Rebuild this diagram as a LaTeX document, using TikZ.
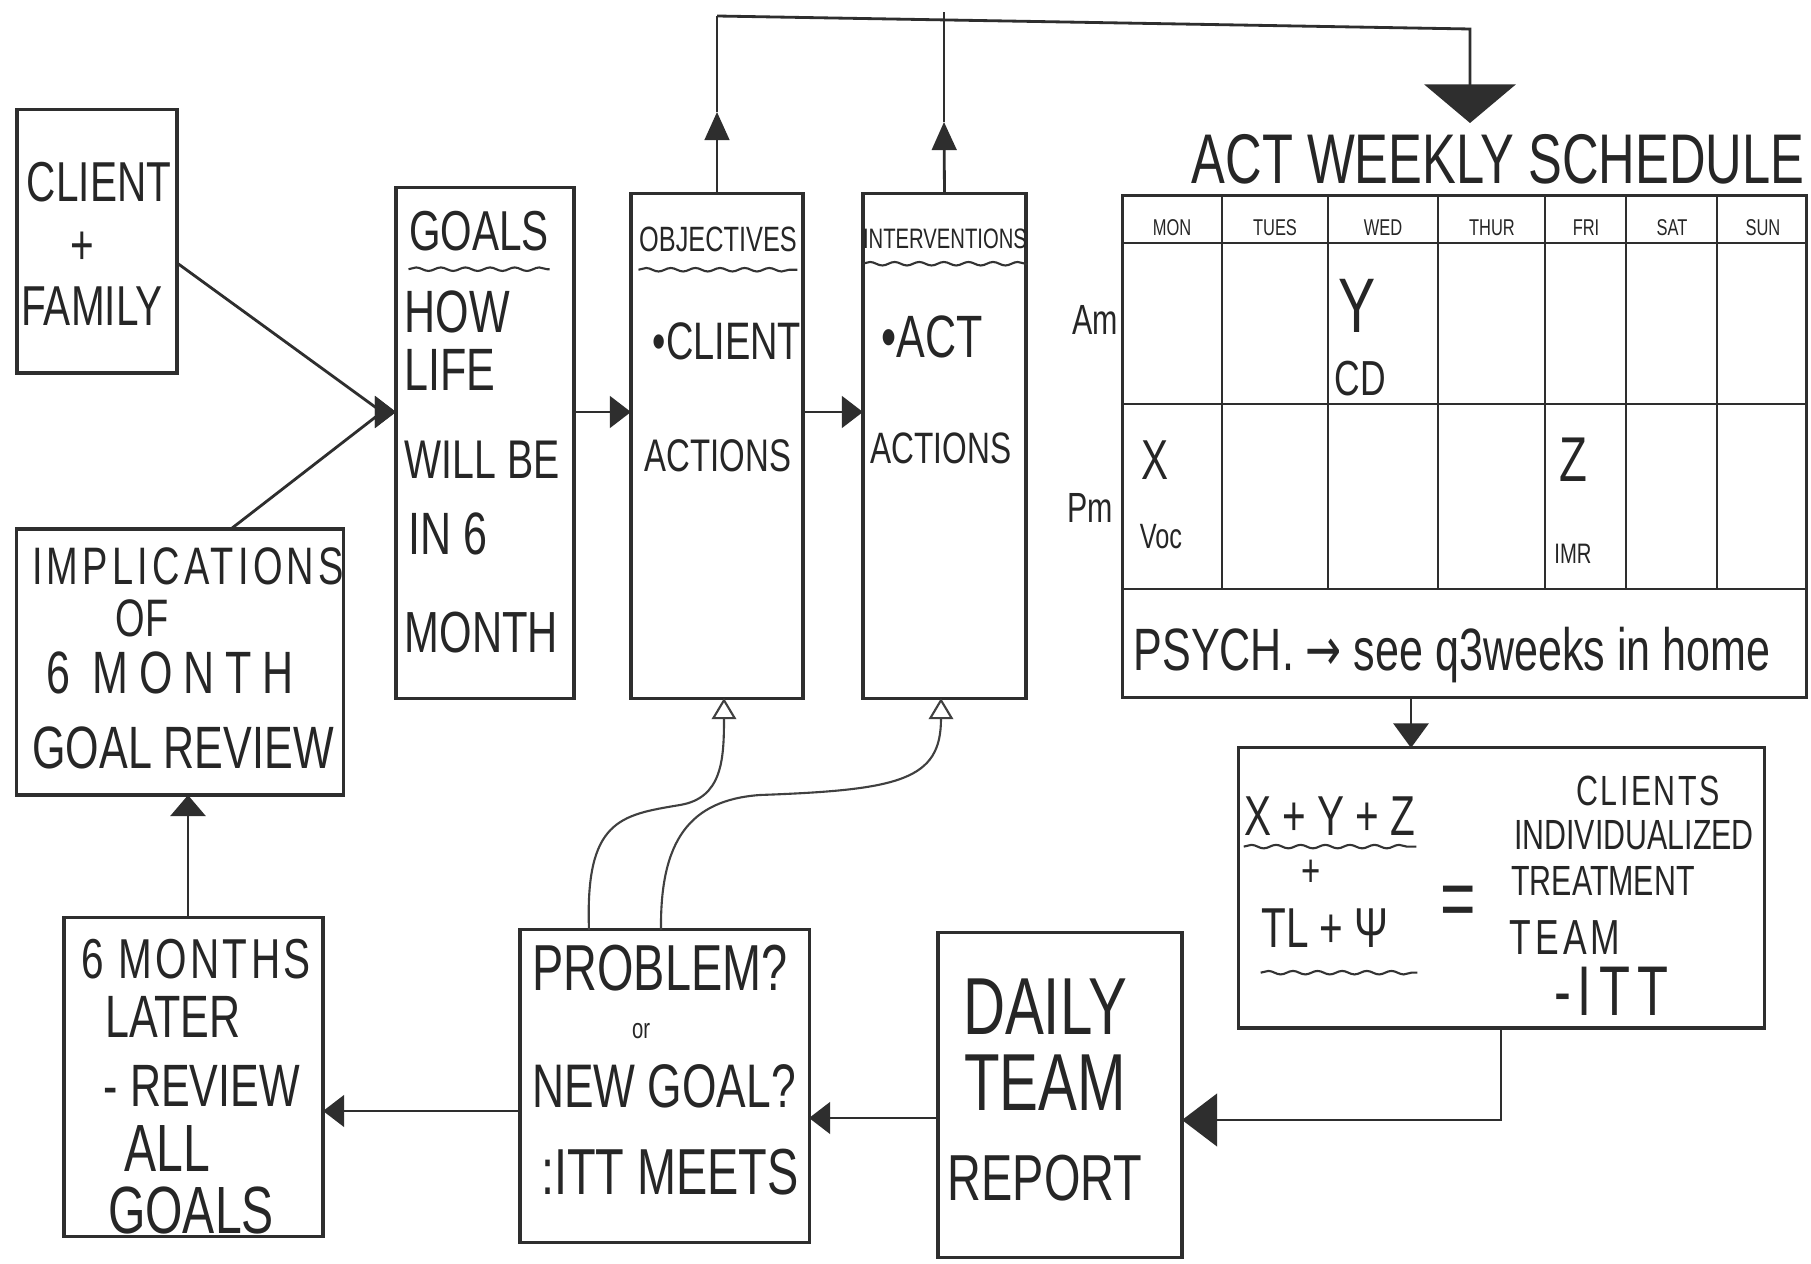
\documentclass[tikz,border=0pt]{standalone}
\usepackage{fontspec}
\setmainfont[FakeStretch=0.72]{Liberation Sans}
\newfontfamily\dvsans[FakeStretch=0.72]{DejaVu Sans}
\usetikzlibrary{arrows.meta,decorations.pathmorphing,calc}
\newcommand\fsz[1]{\fontsize{#1}{#1}\selectfont}
\begin{document}
\begin{tikzpicture}[x=0.01cm,y=-0.01cm,
  ink/.style={draw=black!82, line width=0.9pt},
  box/.style={ink, rectangle, inner sep=0pt, outer sep=0pt},
  lbl/.style={inner sep=0pt, text=black!85},
  con/.style={draw=black!82, line width=0.8pt},
  arr/.style={con, -{Triangle[length=6pt,width=9pt]}},
  uparr/.style={con, -{Triangle[length=8pt,width=7pt]}},
  bigarr/.style={con, -{Triangle[length=11pt,width=26pt]}},
  sidearr/.style={con, -{Triangle[length=10pt,width=15pt]}},
  openarr/.style={draw=black!75, line width=0.6pt, -{Triangle[open,length=6pt,width=7pt]}},
  uline/.style={draw=black!80, line width=0.6pt, decorate, decoration={snake, amplitude=0.5pt, segment length=7pt}},
  grid/.style={draw=black!82, line width=0.8pt}
]
\useasboundingbox (0,0) rectangle (1811,1264);
\fill[white] (0,0) rectangle (1811,1264);

% ---------- boxes ----------
\node[box, minimum width=1.60cm, minimum height=2.63cm] (cf) at (97,241.5) {};
\node[box, minimum width=3.26cm, minimum height=2.66cm] (impl) at (180,662) {};
\node[box, minimum width=2.59cm, minimum height=3.18cm] (six) at (193.5,1077) {};
\node[box, minimum width=1.78cm, minimum height=5.10cm] (goals) at (485,443) {};
\node[box, minimum width=1.72cm, minimum height=5.04cm] (obj) at (717,446) {};
\node[box, minimum width=1.63cm, minimum height=5.04cm] (intv) at (944.5,446) {};
\node[box, minimum width=6.83cm, minimum height=5.01cm] (sched) at (1464.5,446.5) {};
\node[box, minimum width=5.25cm, minimum height=2.80cm] (treat) at (1501.5,888) {};
\node[box, minimum width=2.44cm, minimum height=3.24cm] (daily) at (1060,1095) {};
\node[box, minimum width=2.89cm, minimum height=3.12cm] (prob) at (664.5,1086) {};

% ---------- schedule grid ----------
\draw[grid] (sched.west |- 0,243) -- (sched.east |- 0,243);
\draw[grid] (sched.west |- 0,404) -- (sched.east |- 0,404);
\draw[grid] (sched.west |- 0,589) -- (sched.east |- 0,589);
\foreach \cx in {1222,1328,1438,1545,1626,1717}
  \draw[grid] (\cx,196) -- (\cx,589);

% ---------- texts ----------
% client + family
\node[lbl, font={\fsz{16}}] (cfa) at (99,182) {CLIENT};
\node[lbl, font={\fsz{16}}] (cfb) at (82,248) {+};
\node[lbl, font={\fsz{16}}] (cfc) at (92,306) {FAMILY};
% implications
\node[lbl, font={\fsz{15}\addfontfeature{LetterSpace=8}}] (ima) at (188,566) {IMPLICATIONS};
\node[lbl, font={\fsz{15}}] (imb) at (142,618) {OF};
\node[lbl, font={\fsz{17}\addfontfeature{LetterSpace=18}}] (imc) at (170,673) {6 MONTH};
\node[lbl, font={\fsz{17}}] (imd) at (183,748) {GOAL REVIEW};
% six months
\node[lbl, font={\fsz{16}\addfontfeature{LetterSpace=6}}] (sxa) at (196,959) {6 MONTHS};
\node[lbl, font={\fsz{17}}] (sxb) at (173,1017) {LATER};
\node[lbl, font={\fsz{17}}] (sxc) at (202,1086) {- REVIEW};
\node[lbl, font={\fsz{19}}] (sxd) at (167,1149) {ALL};
\node[lbl, font={\fsz{19}}] (sxe) at (191,1210) {GOALS};
% goals
\node[lbl, font={\fsz{16}}] (gT) at (479,231) {GOALS};
\node[lbl, font={\fsz{17}}, anchor=west] (ga) at (404,312) {HOW};
\node[lbl, font={\fsz{17}}, anchor=west] (gb) at (404,370) {LIFE};
\node[lbl, font={\fsz{15.5}}, anchor=west] (gc) at (404,460) {WILL BE};
\node[lbl, font={\fsz{17}}, anchor=west] (gd) at (408,534) {IN 6};
\node[lbl, font={\fsz{16.5}}, anchor=west] (ge) at (404,633) {MONTH};
% objectives
\node[lbl, font={\fsz{10}}] (oT) at (718,239) {OBJECTIVES};
\node[lbl, font={\fsz{15}}] (oa) at (727,341) {•CLIENT};
\node[lbl, font={\fsz{13}}] (ob) at (718,456) {ACTIONS};
% interventions
\node[lbl, font={\fsz{8}}] (iT) at (945,239) {INTERVENTIONS};
\node[lbl, font={\fsz{17}}] (ia) at (932,337) {•ACT};
\node[lbl, font={\fsz{12.5}}] (ib) at (941,448) {ACTIONS};
% schedule
\node[lbl, font={\fsz{20}}] (title) at (1498,159) {ACT WEEKLY SCHEDULE};
\node[lbl, font={\fsz{6.5}}] (dmon) at (1172,228) {MON};
\node[lbl, font={\fsz{6.5}}] (dtue) at (1275,228) {TUES};
\node[lbl, font={\fsz{6.5}}] (dwed) at (1383,228) {WED};
\node[lbl, font={\fsz{6.5}}] (dthu) at (1492,228) {THUR};
\node[lbl, font={\fsz{6.5}}] (dfri) at (1586,228) {FRI};
\node[lbl, font={\fsz{6.5}}] (dsat) at (1672,228) {SAT};
\node[lbl, font={\fsz{6.5}}] (dsun) at (1763,228) {SUN};
\node[lbl, font={\fsz{12}}] (am) at (1095,320) {Am};
\node[lbl, font={\fsz{12}}] (pm) at (1090,508) {Pm};
\node[lbl, font={\fsz{22}}] (sy) at (1357,306) {Y};
\node[lbl, font={\fsz{14}}] (scd) at (1360,379) {CD};
\node[lbl, font={\fsz{16}}] (sx) at (1155,460) {X};
\node[lbl, font={\fsz{10}}] (svoc) at (1161,537) {Voc};
\node[lbl, font={\fsz{18}}] (sz) at (1573,460) {Z};
\node[lbl, font={\fsz{8}}] (simr) at (1573,554) {IMR};
\node[lbl, font={\fsz{17}}] (psych) at (1452,655) {PSYCH. {\dvsans →} see q3weeks in home};
% treatment team
\node[lbl, font={\fsz{16}}] (ta) at (1330,816) {X + Y + Z};
\node[lbl, font={\fsz{13}}] (tb) at (1311,873) {+};
\node[lbl, font={\fsz{16}}] (tc) at (1325,928) {TL + Ψ};
\node[lbl, font={\fsz{24}}] (teq) at (1458,907) {=};
\node[lbl, font={\fsz{12}\addfontfeature{LetterSpace=6}}] (td) at (1648,791) {CLIENTS};
\node[lbl, font={\fsz{12}}] (te) at (1634,835) {INDIVIDUALIZED};
\node[lbl, font={\fsz{12}}] (tf) at (1603,881) {TREATMENT};
\node[lbl, font={\fsz{14}\addfontfeature{LetterSpace=8}}] (tg) at (1565,938) {TEAM};
\node[lbl, font={\fsz{20}\addfontfeature{LetterSpace=10}}] (th) at (1611,991) {-ITT};
% daily team report
\node[lbl, font={\fsz{23}}] (da) at (1045,1007) {DAILY};
\node[lbl, font={\fsz{23}}] (db) at (1045,1083) {TEAM};
\node[lbl, font={\fsz{18.5}}] (dc) at (1045,1178) {REPORT};
% problem
\node[lbl, font={\fsz{18.5}}] (pa) at (660,968) {PROBLEM?};
\node[lbl, font={\fsz{8}}] (pb) at (641,1031) {or};
\node[lbl, font={\fsz{17.5}}] (pc) at (664,1086) {NEW GOAL?};
\node[lbl, font={\fsz{18.5}}] (pd) at (670,1172) {:ITT MEETS};

% ---------- underlines ----------
\draw[uline] ([yshift=-5pt]gT.south west) -- ([yshift=-5pt]gT.south east);
\draw[uline] ([yshift=-5pt]oT.south west) -- ([yshift=-5pt]oT.south east);
\draw[uline] ([yshift=-4pt]iT.south west) -- ([yshift=-4pt]iT.south east);
\draw[uline] ([yshift=-3pt]ta.south west) -- ([yshift=-3pt]ta.south east);
\draw[uline] ([yshift=-7pt]tc.south west) -- ([yshift=-7pt,xshift=8pt]tc.south east);

% ---------- connectors ----------
\coordinate (gin) at (goals.west |- 0,412);
\coordinate (gpre) at (382,412);
\draw[arr] (cf.east |- 0,263) -- (gpre) -- (gin);
\draw[arr] (impl.north -| 231,0) -- (gpre) -- (gin);
\draw[arr] (goals.east |- 0,412) -- (obj.west |- 0,412);
\draw[arr] (obj.east |- 0,412) -- (intv.west |- 0,412);

\coordinate (o1) at (717,112);
\coordinate (o2) at (717,16);
\coordinate (i1) at (944,122);
\coordinate (i2) at (944,12);
\coordinate (t1) at (1470,29);
\coordinate (t2) at (1470,123);
\draw[uparr] (obj.north) -- (o1);
\draw[con] (o1) -- (o2);
\draw[uparr] (intv.north) -- (i1);
\draw[con] (i1) -- (i2);
\draw[bigarr] (o2) -- (t1) -- (t2);

\draw[con, -{Triangle[length=7pt,width=10pt]}] (sched.south -| 1411,0) -- (treat.north -| 1411,0);
\coordinate (c1) at (1501,1120);
\draw[sidearr] (treat.south -| c1) -- (c1) -- (daily.east |- c1);
\draw[arr] (daily.west |- 0,1118) -- (prob.east |- 0,1118);
\draw[arr] (prob.west |- 0,1111) -- (six.east |- 0,1111);
\draw[con, -{Triangle[length=6pt,width=10pt]}] (six.north -| 188,0) -- (impl.south -| 188,0);

\draw[openarr] (prob.north -| 589,0) .. controls (585,820) and (620,815) .. (680,805) .. controls (722,798) and (724,760) .. (obj.south -| 724,0);
\draw[openarr] (prob.north -| 661,0) .. controls (660,840) and (690,800) .. (760,795) .. controls (900,790) and (941,780) .. (intv.south -| 941,0);
\end{tikzpicture}
\end{document}
